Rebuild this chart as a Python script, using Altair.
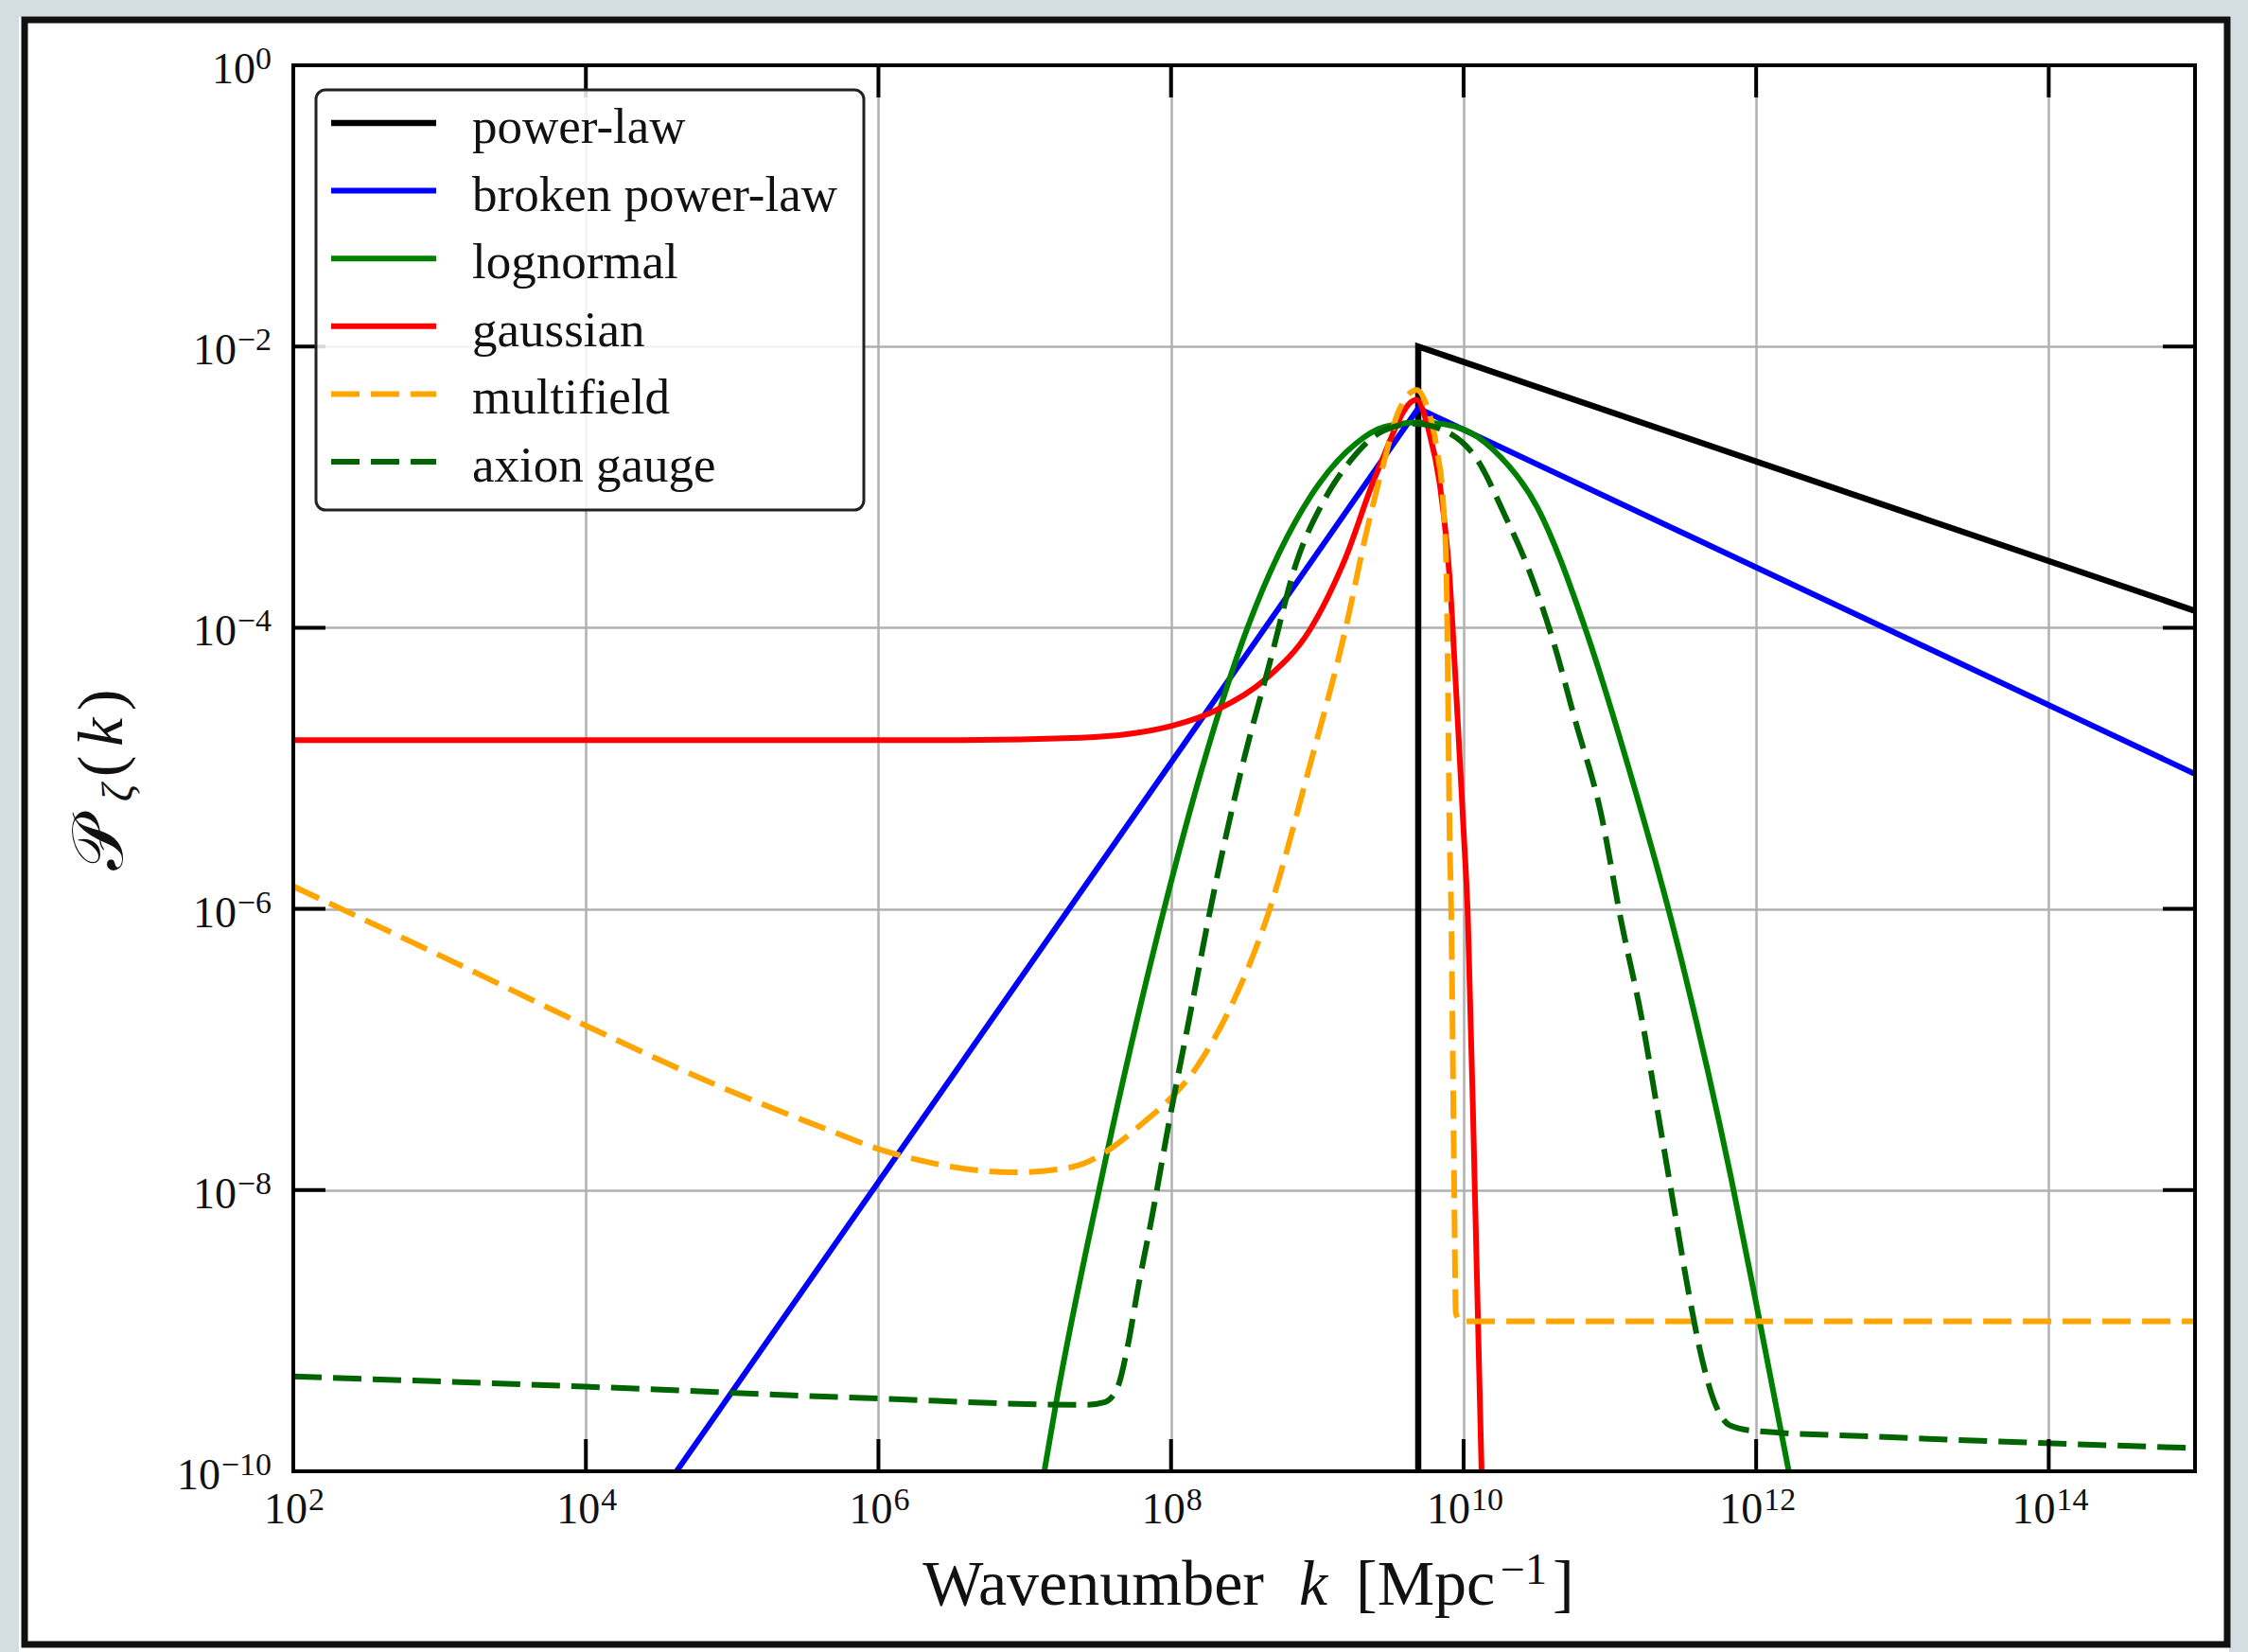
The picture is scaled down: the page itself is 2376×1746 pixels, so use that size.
import altair as alt
import pandas as pd

# ---- curves: log10(k / Mpc^-1) and log10(P_zeta) sampled along each spectrum ----
power_law_lk = [9.69, 9.69, 15.0]
power_law_lp = [-10.0, -2.0, -3.88]

broken_lk = [4.62, 9.69, 15.0]
broken_lp = [-10.0, -2.44, -5.04]

lognormal_lk = [7.134, 7.215, 7.508, 7.99, 8.19, 8.523, 8.962, 9.262, 9.458, 9.69,
                9.883, 10.098, 10.205, 10.507, 10.83, 11.163, 11.42, 11.83, 12.014, 12.223]
lognormal_lp = [-10.0, -9.51, -8.0, -5.85, -5.08, -4.0, -3.053, -2.692, -2.572, -2.54,
                -2.555, -2.645, -2.736, -3.15, -4.0, -5.12, -6.08, -7.92, -8.88, -10.0]

gaussian_lk = [2.0, 5.0, 6.459, 7.382, 7.72, 8.0, 8.304, 8.65, 8.95, 9.181, 9.412, 9.678,
               9.764, 9.839, 9.904, 9.947, 10.0, 10.029, 10.077, 10.123]
gaussian_lp = [-4.80, -4.80, -4.80, -4.783, -4.755, -4.70, -4.59, -4.363, -4.014, -3.534,
               -2.885, -2.379, -2.606, -2.993, -3.637, -4.409, -5.44, -6.05, -8.0, -10.0]

multifield_lk = [2.0, 3.0, 4.0, 4.903, 5.645, 6.005, 6.387, 6.92, 7.314, 7.8, 8.189, 8.42,
                 8.651, 8.95, 9.192, 9.342, 9.458, 9.55, 9.68, 9.753, 9.818, 9.861, 9.883,
                 9.893, 9.904, 9.915, 9.936, 9.947, 9.98, 15.0]
multifield_lp = [-5.84, -6.33, -6.83, -7.258, -7.567, -7.709, -7.812, -7.874, -7.838, -7.53,
                 -7.104, -6.671, -6.076, -4.976, -4.014, -3.293, -2.812, -2.476, -2.31, -2.44,
                 -2.736, -3.122, -3.637, -4.41, -5.44, -5.995, -8.0, -8.875, -8.933, -8.933]

axion_lk = [2.0, 3.995, 6.005, 7.425, 7.543, 7.635, 7.705, 7.774, 7.866, 7.993, 8.12, 8.281,
            8.489, 8.674, 8.858, 9.043, 9.227, 9.458, 9.665, 9.883, 10.098, 10.27, 10.464,
            10.614, 10.765, 10.937, 11.078, 11.218, 11.347, 11.433, 11.541, 11.627, 11.713,
            11.821, 11.993, 12.79, 15.0]
axion_lp = [-9.326, -9.398, -9.483, -9.528, -9.51, -9.402, -9.104, -8.699, -8.212, -7.482,
            -6.806, -5.941, -4.976, -4.254, -3.534, -3.101, -2.812, -2.596, -2.548, -2.606,
            -2.813, -3.173, -3.637, -4.1, -4.667, -5.311, -6.09, -6.78, -7.566, -8.09, -8.744,
            -9.189, -9.503, -9.674, -9.713, -9.752, -9.835]

series_names = ["power-law", "broken power-law", "lognormal", "gaussian", "multifield", "axion gauge"]
series_colors = ["#000000", "#0000ff", "#008000", "#ff0000", "#ffa500", "#006400"]
series_dashes = [None, None, None, None, [30, 12], [30, 12]]
series_widths = [6.5, 6, 6, 6, 6, 6]
series_interp = ["linear", "linear", "monotone", "monotone", "monotone", "monotone"]
series_lk = [power_law_lk, broken_lk, lognormal_lk, gaussian_lk, multifield_lk, axion_lk]
series_lp = [power_law_lp, broken_lp, lognormal_lp, gaussian_lp, multifield_lp, axion_lp]

# axis ticks (every second decade) and their exponents
x_tick_vals = [1e2, 1e4, 1e6, 1e8, 1e10, 1e12, 1e14]
x_tick_exp = ["2", "4", "6", "8", "10", "12", "14"]
y_tick_vals = [1e0, 1e-2, 1e-4, 1e-6, 1e-8, 1e-10]
y_tick_exp = ["0", "−2", "−4", "−6", "−8", "−10"]

W, H = 2010, 1486
SERIF = "Liberation Serif, DejaVu Serif, serif"
INK = "#111111"
TICK_LEN = 34
BASE_FS, EXP_FS = 46, 34

xs = alt.Scale(type="log", domain=[1e2, 1e15], nice=False)
ys = alt.Scale(type="log", domain=[1e-10, 1e0], nice=False)

x_axis = alt.Axis(values=x_tick_vals, grid=True, gridColor="#b0b0b0", gridWidth=2.5,
                  ticks=False, labels=False, domain=False, title=None)
y_axis = alt.Axis(values=y_tick_vals, grid=True, gridColor="#b0b0b0", gridWidth=2.5,
                  ticks=False, labels=False, domain=False, title=None)

X = alt.X("k:Q", scale=xs, axis=x_axis)
Y = alt.Y("p:Q", scale=ys, axis=y_axis)

one = pd.DataFrame({"a": [0]})


def txt(text, size, x, y, align="left", style="normal", angle=0):
    mk = dict(text=text, font=SERIF, fontSize=size, fontStyle=style, align=align,
              baseline="alphabetic", color=INK)
    if angle:
        mk["angle"] = angle
    return alt.Chart(one).mark_text(**mk).encode(x=alt.value(x), y=alt.value(y))


layers = []

# light surround and paper edge
layers.append(alt.Chart(one).mark_rect(fill="white", fillOpacity=0, stroke="#d3dde2", strokeWidth=40).encode(
    x=alt.value(-310), x2=alt.value(2066), y=alt.value(-71), y2=alt.value(1697)))
layers.append(alt.Chart(one).mark_rect(fill="white", fillOpacity=0, stroke=INK, strokeWidth=7).encode(
    x=alt.value(-284), x2=alt.value(2044), y=alt.value(-48), y2=alt.value(1669)))

# spectra
for name, color, dash, width, interp, lk, lp in zip(series_names, series_colors, series_dashes,
                                                    series_widths, series_interp, series_lk, series_lp):
    df = pd.DataFrame({"k": [10 ** v for v in lk], "p": [10 ** v for v in lp],
                       "i": list(range(len(lk))), "series": name})
    mk = dict(color=color, strokeWidth=width, clip=True, interpolate=interp)
    if dash:
        mk["strokeDash"] = dash
    layers.append(alt.Chart(df).mark_line(**mk).encode(x=X, y=Y, order=alt.Order("i:Q")))

# inward ticks on all four sides
xt = pd.DataFrame({"k": x_tick_vals, "e": x_tick_exp})
yt = pd.DataFrame({"p": y_tick_vals, "e": y_tick_exp})
layers.append(alt.Chart(xt).mark_rule(color="black", strokeWidth=4).encode(
    x=X, y=alt.value(H - TICK_LEN), y2=alt.value(H)))
layers.append(alt.Chart(xt).mark_rule(color="black", strokeWidth=4).encode(
    x=X, y=alt.value(0), y2=alt.value(TICK_LEN)))
layers.append(alt.Chart(yt).mark_rule(color="black", strokeWidth=4).encode(
    y=Y, x=alt.value(0), x2=alt.value(TICK_LEN)))
layers.append(alt.Chart(yt).mark_rule(color="black", strokeWidth=4).encode(
    y=Y, x=alt.value(W - TICK_LEN), x2=alt.value(W)))

# tick labels: "10" with a raised exponent
for n_chars, anchor in [(1, 15), (2, 7)]:
    sub = xt[xt["e"].str.len() == n_chars]
    layers.append(alt.Chart(sub).mark_text(text="10", font=SERIF, fontSize=BASE_FS, align="right",
                                           baseline="alphabetic", color=INK, dx=anchor).encode(
        x=X, y=alt.value(H + 55)))
    layers.append(alt.Chart(sub).mark_text(font=SERIF, fontSize=EXP_FS, align="left",
                                           baseline="alphabetic", color=INK, dx=anchor + 1).encode(
        x=X, y=alt.value(H + 41), text="e:N"))

layers.append(alt.Chart(yt).mark_text(font=SERIF, fontSize=EXP_FS, align="right",
                                      baseline="alphabetic", color=INK, dy=4).encode(
    y=Y, x=alt.value(-23), text="e:N"))
for n_chars, exp_w in [(1, 17), (2, 37), (3, 54)]:
    sub = yt[yt["e"].str.len() == n_chars]
    layers.append(alt.Chart(sub).mark_text(text="10", font=SERIF, fontSize=BASE_FS, align="right",
                                           baseline="alphabetic", color=INK, dy=19).encode(
        y=Y, x=alt.value(-23 - exp_w)))

# plot frame
layers.append(alt.Chart(one).mark_rect(fill="white", fillOpacity=0, stroke="black", strokeWidth=4).encode(
    x=alt.value(0), x2=alt.value(W), y=alt.value(0), y2=alt.value(H)))

# legend
layers.append(alt.Chart(one).mark_rect(fill="white", fillOpacity=0.85, stroke="#222222", strokeWidth=3,
                                       cornerRadius=10).encode(
    x=alt.value(24), x2=alt.value(603), y=alt.value(26), y2=alt.value(470)))
for j, (name, color, dash, width) in enumerate(zip(series_names, series_colors, series_dashes, series_widths)):
    row_y = 61 + 71.6 * j
    mk = dict(color=color, strokeWidth=width)
    if dash:
        mk["strokeDash"] = dash
    layers.append(alt.Chart(one).mark_rule(**mk).encode(
        x=alt.value(40), x2=alt.value(151), y=alt.value(row_y)))
    layers.append(txt(name, 53, 189, row_y + 21))

# x-axis title: Wavenumber k [Mpc^-1]
TITLE = 68
layers.append(txt("Wavenumber", TITLE, 1026, 1627, align="right"))
layers.append(txt("k", TITLE, 1078, 1627, align="center", style="italic"))
layers.append(txt("[Mpc", TITLE, 1123, 1627))
layers.append(txt("−1", 46, 1276, 1605))
layers.append(txt("]", TITLE, 1331, 1627))

# y-axis title, rotated pieces: P, subscript zeta, (k)
layers.append(txt("𝒫", 76, -181, 823, align="center", angle=270))
layers.append(txt("ζ", 46, -170, 769, align="center", style="italic", angle=270))
layers.append(txt("(", TITLE, -181, 741, align="center", angle=270))
layers.append(txt("k", TITLE, -181, 705, align="center", style="italic", angle=270))
layers.append(txt(")", TITLE, -181, 671, align="center", angle=270))

chart = alt.layer(*layers).properties(
    width=W, height=H,
    autosize=alt.AutoSizeParams(type="none"),
    padding={"left": 310, "top": 69, "right": 56, "bottom": 191},
    background="white",
).configure_view(stroke=None)

chart.save("out.html", embed_options={"renderer": "svg", "actions": False})
